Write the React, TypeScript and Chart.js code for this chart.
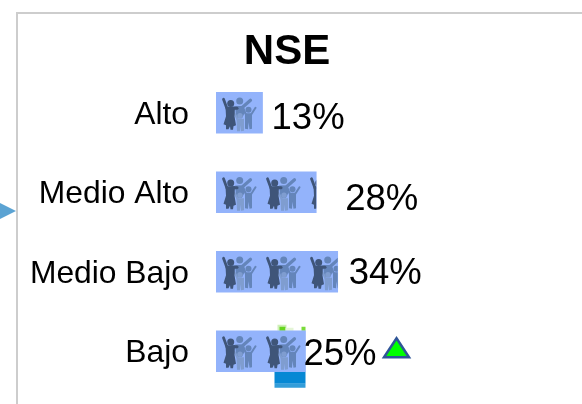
import React, { useEffect, useRef } from "react";
import { Chart, registerables } from "chart.js";

Chart.register(...registerables);

const titleText = "NSE";
const categories = ["Alto", "Medio Alto", "Medio Bajo", "Bajo"];
const shares = [13, 28, 34, 25];
const valueLabels = ["13%", "28%", "34%", "25%"];

const labelGap = [9, 29, 11, -2];
const labelDrop = [6, 8, 2, 4];
const FONT = '"Liberation Sans", Arial, sans-serif';
const BAR = "#93B3FB";
const TILE = 44;

function poly(ctx: CanvasRenderingContext2D, pts: number[][], color: string) {
  ctx.fillStyle = color;
  ctx.beginPath();
  pts.forEach(([x, y], i) => (i ? ctx.lineTo(x, y) : ctx.moveTo(x, y)));
  ctx.closePath();
  ctx.fill();
}
function dot(ctx: CanvasRenderingContext2D, x: number, y: number, r: number, color: string) {
  ctx.fillStyle = color;
  ctx.beginPath();
  ctx.arc(x, y, r, 0, Math.PI * 2);
  ctx.fill();
}
function stroke(ctx: CanvasRenderingContext2D, pts: number[][], w: number, color: string) {
  ctx.strokeStyle = color;
  ctx.lineWidth = w;
  ctx.lineCap = "round";
  ctx.lineJoin = "round";
  ctx.beginPath();
  pts.forEach(([x, y], i) => (i ? ctx.lineTo(x, y) : ctx.moveTo(x, y)));
  ctx.stroke();
}

function drawFamily(ctx: CanvasRenderingContext2D) {
  const dark = "#3F5579";
  const mid = "#6485BA";
  const light = "#7F9DD0";
  // second adult
  dot(ctx, 23.7, 8.7, 3.5, mid);
  stroke(ctx, [[19.5, 15.5], [26.5, 15], [34.5, 8]], 3.2, mid);
  poly(ctx, [[19, 14], [28, 14], [28.5, 21], [26, 26], [20.5, 26]], mid);
  // tall child
  dot(ctx, 24, 23.5, 2.7, light);
  poly(ctx, [[20.5, 26.5], [28, 26.5], [28, 38.5], [25, 39], [24.5, 33], [24, 39], [21, 39]], light);
  stroke(ctx, [[21.5, 27], [18.5, 21]], 2, light);
  // small child
  dot(ctx, 32.5, 17.5, 3, mid);
  poly(ctx, [[29, 21], [36, 21], [36, 36.5], [33.5, 37], [32.5, 30], [32, 37], [29, 36.5]], mid);
  stroke(ctx, [[30, 22.5], [27.5, 16.5]], 2, mid);
  stroke(ctx, [[35, 22.5], [39.5, 15.5]], 2, mid);
  // dark adult
  dot(ctx, 14.7, 11.3, 3.5, dark);
  stroke(ctx, [[11, 16.5], [7.5, 7]], 2.8, dark);
  stroke(ctx, [[16, 16], [21, 16]], 3, dark);
  poly(ctx, [[9.5, 14.5], [19, 14.5], [18.5, 24], [20, 33], [17.5, 34], [17, 37.5], [14.5, 37.5], [14, 34], [12.5, 37], [10, 37], [10, 33], [7.5, 32], [10, 24]], dark);
}

const decorations = {
  id: "decorations",
  beforeDatasetsDraw(chart: any) {
    const { ctx } = chart;
    ctx.save();
    // frame
    ctx.strokeStyle = "#CDCDCD";
    ctx.lineWidth = 2;
    ctx.beginPath();
    ctx.moveTo(17, 404);
    ctx.lineTo(17, 13);
    ctx.lineTo(582, 13);
    ctx.stroke();
    // side marker
    poly(ctx, [[0, 203], [16, 211], [0, 219]], "#5BA3D3");
    // fragments showing from behind the last bar
    const last = chart.getDatasetMeta(0).data[3];
    const end = last.x;
    const bottom = last.y + 20.5;
    const top = last.y - 20.5;
    ctx.fillStyle = "#0688D4";
    ctx.fillRect(end - 31, bottom, 31, 12);
    ctx.fillStyle = "#339DD9";
    ctx.fillRect(end - 31, bottom + 12, 31, 4);
    ctx.fillStyle = "#CFEFB8";
    ctx.fillRect(end - 28, top - 6, 9, 6);
    ctx.fillStyle = "#66D61E";
    ctx.fillRect(end - 26, top - 4, 6, 4);
    ctx.fillStyle = "#E4F5D6";
    ctx.fillRect(end - 20, top - 3, 8, 3);
    ctx.fillStyle = "#7ADB3A";
    ctx.fillRect(end - 4, top - 4, 4, 4);
    ctx.restore();
  },
  afterDatasetsDraw(chart: any) {
    const { ctx } = chart;
    const bars = chart.getDatasetMeta(0).data;
    ctx.save();
    bars.forEach((bar: any, i: number) => {
      const top = bar.y - bar.height / 2;
      ctx.save();
      ctx.beginPath();
      ctx.rect(bar.base, top, bar.x - bar.base, bar.height);
      ctx.clip();
      for (let x = bar.base; x < bar.x; x += TILE) {
        ctx.save();
        ctx.translate(x, top);
        drawFamily(ctx);
        ctx.restore();
      }
      ctx.restore();
      ctx.fillStyle = "#000000";
      ctx.font = `36.5px ${FONT}`;
      ctx.textAlign = "left";
      ctx.textBaseline = "middle";
      ctx.fillText(valueLabels[i], bar.x + labelGap[i], bar.y + labelDrop[i]);
    });
    // up-trend marker beside the last value
    const last = bars[3];
    const tx = last.x + 91;
    const ty = last.y + 6;
    ctx.fillStyle = "#00FF00";
    ctx.strokeStyle = "#2F5597";
    ctx.lineWidth = 2.5;
    ctx.lineJoin = "miter";
    ctx.beginPath();
    ctx.moveTo(tx, ty - 19);
    ctx.lineTo(tx + 12.5, ty);
    ctx.lineTo(tx - 12.5, ty);
    ctx.closePath();
    ctx.fill();
    ctx.stroke();
    ctx.restore();
  },
};

export default function App() {
  const ref = useRef<HTMLCanvasElement>(null);
  useEffect(() => {
    const chart = new Chart(ref.current!, {
      type: "bar",
      data: {
        labels: categories,
        datasets: [{ data: shares, backgroundColor: BAR, barThickness: 41, borderWidth: 0 }],
      },
      options: {
        indexAxis: "y",
        animation: false,
        responsive: false,
        layout: { padding: { top: 0, right: 8, bottom: 13, left: 0 } },
        plugins: {
          legend: { display: false },
          tooltip: { enabled: false },
          title: {
            display: true,
            text: titleText,
            color: "#000000",
            font: { family: FONT, size: 42, weight: "bold", lineHeight: 1 },
            padding: { top: 31, bottom: 0 },
          },
        },
        scales: {
          x: { display: false, min: 0, max: 100 },
          y: {
            grid: { display: false },
            border: { display: false },
            afterFit(scale: any) {
              scale.width = 216;
              scale.paddingTop = 0;
              scale.paddingBottom = 0;
            },
            ticks: { color: "#000000", font: { family: FONT, size: 31.8 }, padding: 19, labelOffset: 2 },
          },
        },
      },
      plugins: [decorations],
    } as any);
    return () => chart.destroy();
  }, []);
  return (
    <div style={{ position: "absolute", left: 0, top: 0, width: 582, height: 404, background: "#fff" }}>
      <canvas ref={ref} width={582} height={404} style={{ display: "block" }} />
    </div>
  );
}
